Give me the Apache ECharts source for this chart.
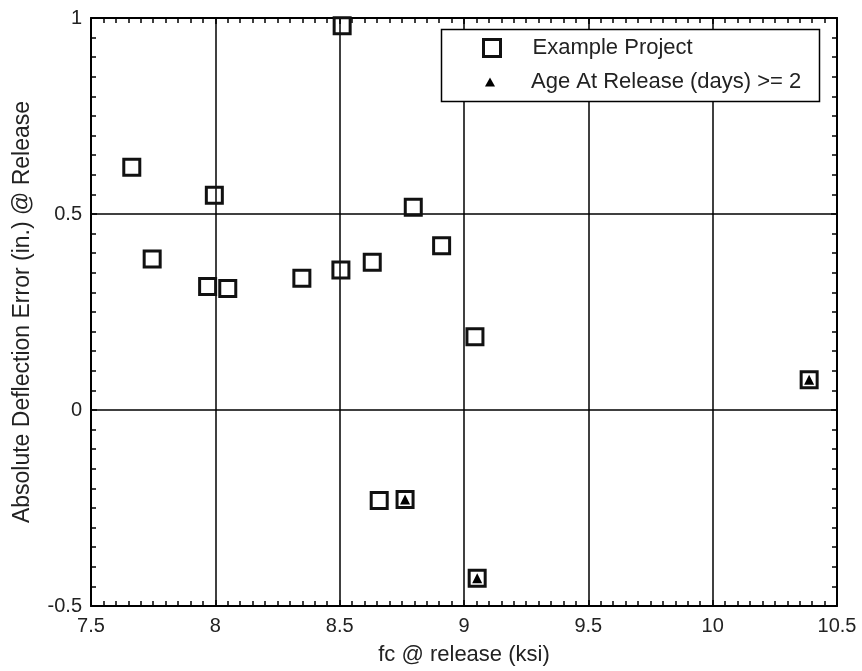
<!DOCTYPE html>
<html>
<head>
<meta charset="utf-8">
<script src="https://cdn.jsdelivr.net/npm/echarts@6/dist/echarts.min.js"></script>
<style>
html,body{margin:0;padding:0;background:#fff;}
#chart{width:862px;height:671px;}
</style>
</head>
<body>
<div id="chart"></div>
<script>
// ---- data ----
const seriesNames = ['Example Project', 'Age At Release (days) >= 2'];
const projectFc  = [7.664, 7.996, 7.746, 7.969, 8.050, 8.348, 8.505, 8.631, 8.796, 8.910, 8.510, 9.044, 10.388, 8.659, 8.763, 9.053];
const projectErr = [0.619, 0.548, 0.385, 0.315, 0.310, 0.336, 0.357, 0.377, 0.517, 0.419, 0.980, 0.187, 0.077, -0.231, -0.228, -0.429];
const ageFc  = [8.763, 9.053, 10.388];
const ageErr = [-0.228, -0.429, 0.077];
const xTicks = [7.5, 8, 8.5, 9, 9.5, 10, 10.5];
const yTicks = [-0.5, 0, 0.5, 1];
const xTitle = 'fc @ release (ksi)';
const yTitle = 'Absolute Deflection Error (in.) @ Release';

const FONT = '"Liberation Sans", Arial, sans-serif';
const zip = (a, b) => a.map((v, i) => [v, b[i]]);

const tickCommon = {
  axisLine: { show: true, onZero: false, lineStyle: { color: '#000', width: 2 } },
  axisTick: { show: true, inside: true, length: 6, lineStyle: { color: '#000', width: 1.5 } },
  minorTick: { show: true, splitNumber: 10, length: 5, lineStyle: { color: '#000', width: 1.5 } },
  minorSplitLine: { show: false }
};

const option = {
  backgroundColor: '#fff',
  animation: false,
  grid: { left: 91, right: 25, top: 18, bottom: 65, containLabel: false },
  xAxis: [
    Object.assign({
      type: 'value', position: 'bottom',
      min: xTicks[0], max: xTicks[xTicks.length - 1], interval: 0.5,
      name: xTitle, nameLocation: 'middle', nameGap: 38,
      nameTextStyle: { fontFamily: FONT, fontSize: 22, color: '#222' },
      axisLabel: { fontFamily: FONT, fontSize: 20, color: '#222', margin: 10 },
      splitLine: { show: true, lineStyle: { color: '#000', width: 1.5 } }
    }, tickCommon),
    Object.assign({
      type: 'value', position: 'top',
      min: xTicks[0], max: xTicks[xTicks.length - 1], interval: 0.5,
      axisLabel: { show: false }, splitLine: { show: false }
    }, tickCommon)
  ],
  yAxis: [
    Object.assign({
      type: 'value', position: 'left',
      min: yTicks[0], max: yTicks[yTicks.length - 1], interval: 0.5,
      name: yTitle, nameLocation: 'middle', nameGap: 57, nameRotate: 90,
      nameTextStyle: { fontFamily: FONT, fontSize: 23, color: '#222' },
      axisLabel: { fontFamily: FONT, fontSize: 20, color: '#222', margin: 9 },
      splitLine: { show: true, lineStyle: { color: '#000', width: 1.5 } }
    }, tickCommon),
    Object.assign({
      type: 'value', position: 'right',
      min: yTicks[0], max: yTicks[yTicks.length - 1], interval: 0.5,
      axisLabel: { show: false }, splitLine: { show: false }
    }, tickCommon)
  ],
  graphic: [{
    type: 'rect', z: 10, zlevel: 0,
    shape: { x: 441.5, y: 29.5, width: 378, height: 72 },
    style: { fill: '#fff', stroke: '#000', lineWidth: 1.5 }
  }],
  legend: [
    {
      z: 20, left: 482, top: 37, padding: 0, itemWidth: 17, itemHeight: 17,
      data: [{ name: seriesNames[0], icon: 'rect',
               itemStyle: { color: '#fff', borderColor: '#111', borderWidth: 3 } }],
      textStyle: { fontFamily: FONT, fontSize: 22, color: '#222', padding: [0, 0, 0, 27] },
      selectedMode: false
    },
    {
      z: 20, left: 485, top: 71, padding: 0, itemWidth: 10, itemHeight: 9,
      data: [{ name: seriesNames[1], icon: 'triangle',
               itemStyle: { color: '#000', borderWidth: 0 } }],
      textStyle: { fontFamily: FONT, fontSize: 22, color: '#222', padding: [0, 0, 0, 31] },
      selectedMode: false
    }
  ],
  series: [
    {
      name: seriesNames[0], type: 'scatter', clip: false, z: 3,
      symbol: 'rect', symbolSize: 16,
      itemStyle: { color: 'rgba(0,0,0,0)', borderColor: '#111', borderWidth: 3, opacity: 1 },
      data: zip(projectFc, projectErr)
    },
    {
      name: seriesNames[1], type: 'scatter', clip: false, z: 4,
      symbol: 'triangle', symbolSize: 10, symbolOffset: [0, 0],
      itemStyle: { color: '#000', opacity: 1 },
      data: zip(ageFc, ageErr)
    }
  ]
};

echarts.init(document.getElementById('chart')).setOption(option);
</script>
</body>
</html>
